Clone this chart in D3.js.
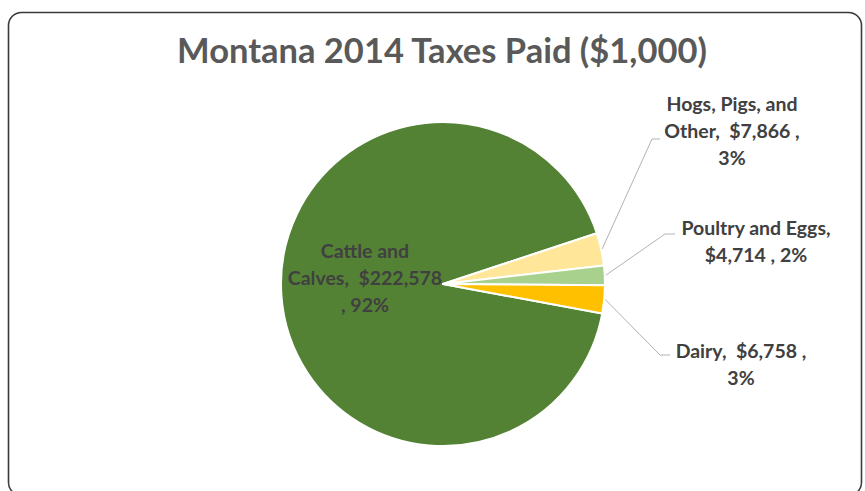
<!DOCTYPE html>
<html>
<head>
<meta charset="utf-8">
<script src="https://cdn.jsdelivr.net/npm/d3@7"></script>
<style>
  html, body { margin: 0; padding: 0; background: #fff; }
  svg { display: block; }
</style>
</head>
<body>
<svg id="chart" width="865" height="491"></svg>
<script>
// Montana 2014 taxes paid by commodity group ($1,000)
const categories = ["Cattle and Calves", "Hogs, Pigs, and Other", "Poultry and Eggs", "Dairy"];
const values = [222578, 7866, 4714, 6758];
const colors = ["#548235", "#FFE699", "#A9D18E", "#FFC000"];
const title = "Montana 2014 Taxes Paid ($1,000)";

const W = 865, H = 491;
const cx = 443, cy = 284, radius = 162;
const fontFam = "Lato, 'Open Sans', sans-serif";

const svg = d3.select("#chart");

// chart frame
svg.append("rect")
  .attr("x", 8.5).attr("y", 12.5)
  .attr("width", W - 12).attr("height", H - 8)
  .attr("rx", 13).attr("ry", 13)
  .attr("fill", "#fff")
  .attr("stroke", "#3a3a3a").attr("stroke-width", 1.6);

svg.append("text")
  .attr("x", 442).attr("y", 63)
  .attr("text-anchor", "middle")
  .attr("font-family", fontFam)
  .attr("font-weight", 700)
  .attr("font-size", 34.5)
  .attr("fill", "#595959")
  .text(title);

const total = d3.sum(values);
const data = categories.map((c, i) => ({ name: c, value: values[i], color: colors[i] }));

// first slice begins just below 3 o'clock, slices run clockwise
const pie = d3.pie().sort(null).value(d => d.value)
  .startAngle(100.5 * Math.PI / 180)
  .endAngle(100.5 * Math.PI / 180 + 2 * Math.PI);
const arcs = pie(data);
const arc = d3.arc().innerRadius(0).outerRadius(radius);

const g = svg.append("g").attr("transform", `translate(${cx},${cy})`);
g.selectAll("path").data(arcs).join("path")
  .attr("d", arc)
  .attr("fill", d => d.data.color)
  .attr("stroke", "#fff")
  .attr("stroke-width", 2)
  .attr("stroke-linejoin", "round");

const fmt = d3.format(",");
const pct = v => Math.round(v / total * 100) + "%";

// label lines per slice, with layout for each label
const labelSpecs = [
  { lines: d => ["Cattle and", "Calves,  $" + fmt(d.value), ", " + pct(d.value)],
    x: 365, y: 258, anchor: "middle", elbow: null },
  { lines: d => ["Hogs, Pigs, and", "Other,  $" + fmt(d.value) + " ,", pct(d.value)],
    x: 732, y: 111, anchor: "middle", elbow: [652, 139], end: [660, 139] },
  { lines: d => ["Poultry and Eggs,", "$" + fmt(d.value) + " , " + pct(d.value)],
    x: 756, y: 235, anchor: "middle", elbow: [665, 234], end: [675, 234] },
  { lines: d => ["Dairy,  $" + fmt(d.value) + " ,", pct(d.value)],
    x: 741, y: 358, anchor: "middle", elbow: [660, 355], end: [670, 355] }
];

const lineH = 27;
arcs.forEach((a, i) => {
  const spec = labelSpecs[i];
  if (spec.elbow) {
    const mid = (a.startAngle + a.endAngle) / 2;
    const sx = cx + Math.sin(mid) * (radius + 1);
    const sy = cy - Math.cos(mid) * (radius + 1);
    svg.append("polyline")
      .attr("points", [[sx, sy], spec.elbow, spec.end].map(p => p.join(",")).join(" "))
      .attr("fill", "none")
      .attr("stroke", "#b3b3b3")
      .attr("stroke-width", 1);
  }
  const t = svg.append("text")
    .attr("font-family", fontFam)
    .attr("font-weight", 700)
    .attr("font-size", 19.5)
    .attr("fill", "#404040")
    .attr("text-anchor", spec.anchor);
  spec.lines(a.data).forEach((ln, j) => {
    t.append("tspan")
      .attr("x", spec.x)
      .attr("y", spec.y + j * lineH)
      .attr("xml:space", "preserve")
      .style("white-space", "pre")
      .text(ln);
  });
});
</script>
</body>
</html>
